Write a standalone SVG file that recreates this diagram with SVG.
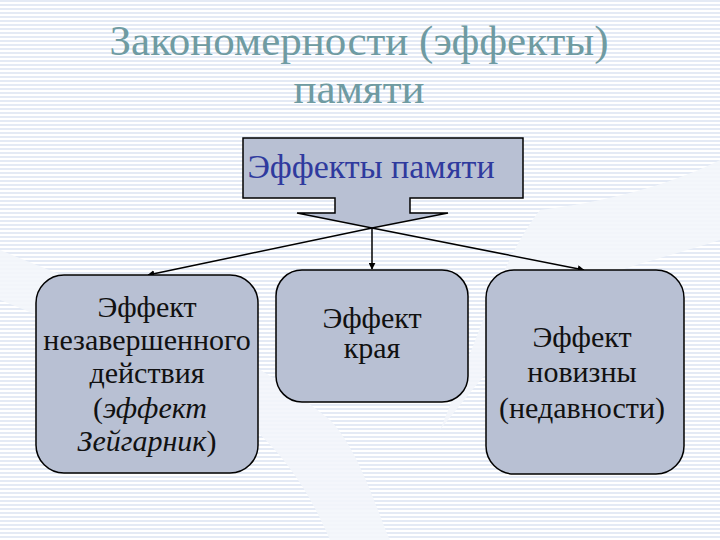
<svg xmlns="http://www.w3.org/2000/svg" width="720" height="540" viewBox="0 0 720 540">
<defs>
<pattern id="stripes" width="8" height="4" patternUnits="userSpaceOnUse">
<rect width="8" height="4" fill="#ffffff"/>
<rect width="8" height="2" fill="#e4eaf5"/>
</pattern>
<marker id="arr" viewBox="0 0 10 10" refX="9" refY="5" markerWidth="7" markerHeight="7" markerUnits="userSpaceOnUse" orient="auto">
<path d="M0,0 L10,5 L0,10 Z" fill="#000"/>
</marker>
</defs>
<style>
.box{fill:#b8c0d3;stroke:#000;stroke-width:1.5}
.t{font-family:'Liberation Serif','Times New Roman',serif;font-size:30px;fill:#111;text-anchor:middle}
.title{font-family:'Liberation Serif','Times New Roman',serif;font-size:43px;fill:#6f9ba2;text-anchor:middle}
.head{font-family:'Liberation Serif','Times New Roman',serif;font-size:34px;fill:#2f3a9e;text-anchor:middle}
.conn{stroke:#000;stroke-width:1.5;fill:none;marker-end:url(#arr)}
</style>
<rect width="720" height="540" fill="url(#stripes)"/>
<g id="bg-swoosh" fill="#f3f6fb" opacity="0.9">
<path d="M0,250 C120,300 220,330 330,420 C360,450 380,520 390,540 L330,540 C300,470 260,420 180,380 C110,345 50,320 0,300 Z"/>
<path d="M540,210 C620,200 680,180 720,160 L720,240 C660,260 600,270 560,300 C520,330 480,380 440,430 C470,360 500,260 540,210 Z"/>
</g>
<g id="title">
<text class="title" x="359" y="55">Закономерности (эффекты)</text>
<text class="title" x="359" y="103">памяти</text>
</g>
<g id="root">
<path class="box" d="M243,138 H523 V198 H410 V213 H448 L372,228 L297,213 H335 V198 H243 Z"/>
<text class="head" x="371" y="178">Эффекты памяти</text>
</g>
<g id="connectors">
<line class="conn" x1="372" y1="228" x2="148" y2="275"/>
<line class="conn" x1="372" y1="228" x2="372" y2="269"/>
<line class="conn" x1="372" y1="228" x2="584" y2="270"/>
</g>
<g id="node-zeigarnik">
<rect class="box" x="36" y="275" width="222" height="198" rx="28"/>
<text class="t" x="147" y="317">Эффект</text>
<text class="t" x="147" y="350">незавершенного</text>
<text class="t" x="147" y="383">действия</text>
<text class="t" x="150" y="418">(<tspan font-style="italic">эффект</tspan></text>
<text class="t" x="147" y="451" font-style="italic">Зейгарник<tspan font-style="normal">)</tspan></text>
</g>
<g id="node-edge">
<rect class="box" x="276" y="270" width="192" height="132" rx="26"/>
<text class="t" x="372" y="328">Эффект</text>
<text class="t" x="372" y="358">края</text>
</g>
<g id="node-novelty">
<rect class="box" x="486" y="270" width="198" height="204" rx="28"/>
<text class="t" x="582" y="347">Эффект</text>
<text class="t" x="582" y="382">новизны</text>
<text class="t" x="582" y="418">(недавности)</text>
</g>
</svg>
